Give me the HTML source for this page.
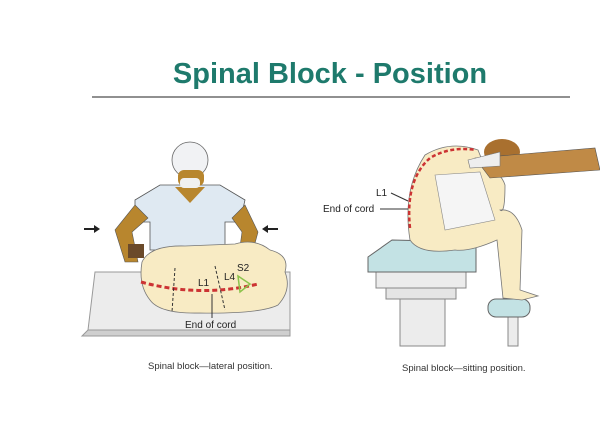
<!DOCTYPE html>
<html><head><style>
body{margin:0;background:#fff;width:600px;height:437px;overflow:hidden}
svg{display:block}
text{font-family:"Liberation Sans",sans-serif}
</style></head><body>
<svg width="600" height="437" viewBox="0 0 600 437">
<text x="330" y="83" text-anchor="middle" font-size="29" font-weight="bold" fill="#1e7a6c">Spinal Block - Position</text>
<line x1="92" y1="97" x2="570" y2="97" stroke="#222" stroke-width="1"/>

<!-- LEFT: table -->
<polygon points="95,272 290,272 290,330 88,330" fill="#ececec" stroke="#999"/>
<polygon points="88,330 290,330 290,336 82,336" fill="#cfcfcf" stroke="#999"/>
<!-- nurse gown -->
<path d="M135,200 L160,185 L220,185 L245,200 L240,222 L225,222 L225,250 L150,250 L150,222 L135,222 Z" fill="#dfe9f2" stroke="#555" stroke-width="0.8"/>
<path d="M175,187 L190,203 L205,187 Z" fill="#b8862e"/>
<!-- head -->
<circle cx="190" cy="160" r="18" fill="#f1f2f4" stroke="#666" stroke-width="0.8"/>
<rect x="178" y="170" width="26" height="16" rx="6" fill="#b8862e"/>
<rect x="180" y="178" width="20" height="10" rx="4" fill="#f0f0f0"/>
<!-- arms -->
<path d="M135,205 L115,230 L125,262 L138,262 L132,232 L148,218 Z" fill="#b8862e" stroke="#555" stroke-width="0.6"/>
<path d="M245,205 L258,232 L250,262 L238,262 L242,232 L232,218 Z" fill="#b8862e" stroke="#555" stroke-width="0.6"/>
<rect x="128" y="244" width="16" height="14" fill="#6b4a2a"/>
<!-- patient body -->
<path d="M142,262 Q150,245 185,246 L235,244 Q255,238 270,250 Q290,255 285,272 Q292,290 278,305 Q260,314 200,313 Q160,314 150,300 Q138,285 142,262 Z" fill="#f8ebc4" stroke="#777" stroke-width="0.8"/>
<!-- arrows -->
<line x1="84" y1="229" x2="96" y2="229" stroke="#222" stroke-width="2"/><polygon points="100,229 94,225 94,233" fill="#222"/>
<line x1="266" y1="229" x2="278" y2="229" stroke="#222" stroke-width="2"/><polygon points="262,229 268,225 268,233" fill="#222"/>
<!-- dashed spine -->
<path d="M141,282 Q200,298 258,284" fill="none" stroke="#cc3333" stroke-width="3" stroke-dasharray="5,3"/>
<line x1="175" y1="268" x2="172" y2="312" stroke="#333" stroke-dasharray="3,2"/>
<line x1="215" y1="266" x2="225" y2="310" stroke="#333" stroke-dasharray="3,2"/>
<polygon points="238,276 250,284 240,292" fill="none" stroke="#8bc34a" stroke-width="1.5"/>
<text x="198" y="286" font-size="10" fill="#222">L1</text>
<text x="224" y="280" font-size="10" fill="#222">L4</text>
<text x="237" y="271" font-size="10" fill="#222">S2</text>
<line x1="212" y1="294" x2="212" y2="318" stroke="#333"/>
<text x="185" y="328" font-size="10" fill="#222">End of cord</text>
<text x="148" y="369" font-size="9.5" fill="#333">Spinal block—lateral position.</text>

<!-- RIGHT: stool -->
<rect x="400" y="298" width="45" height="48" fill="#ececec" stroke="#888"/>
<rect x="386" y="287" width="70" height="12" fill="#e5e5e5" stroke="#888"/>
<rect x="376" y="272" width="90" height="16" fill="#ececec" stroke="#888"/>
<polygon points="368,257 392,240 476,242 476,272 368,272" fill="#c3e2e4" stroke="#666"/>
<rect x="508" y="316" width="10" height="30" fill="#ececec" stroke="#888"/>
<rect x="488" y="299" width="42" height="18" rx="8" fill="#c3e2e4" stroke="#666"/>
<!-- person -->
<path d="M410,240 Q402,190 425,155 Q450,140 478,150 L488,175 Q500,170 505,185 Q505,215 500,210 Q515,208 522,230 L520,290 L538,296 L522,300 L503,298 L497,240 Q470,252 455,250 Q420,255 410,240 Z" fill="#f8ebc4" stroke="#777" stroke-width="0.8"/>
<path d="M435,175 L480,172 L495,220 L445,230 Z" fill="#f5f5f5" stroke="#888" stroke-width="0.6"/>
<ellipse cx="502" cy="152" rx="18" ry="13" fill="#a9702f"/>
<path d="M475,158 L595,148 L600,170 L490,178 Z" fill="#c08a46" stroke="#555" stroke-width="0.6"/>
<path d="M468,160 L500,152 L500,166 L470,168 Z" fill="#eee" stroke="#777" stroke-width="0.6"/>
<path d="M410,228 Q405,180 430,158 Q450,146 476,150" fill="none" stroke="#cc3333" stroke-width="2.5" stroke-dasharray="4,2.5"/>
<text x="376" y="196" font-size="10" fill="#222">L1</text>
<line x1="391" y1="193" x2="408" y2="201" stroke="#333"/>
<text x="323" y="212" font-size="10" fill="#222">End of cord</text>
<line x1="380" y1="209" x2="408" y2="209" stroke="#333"/>
<text x="402" y="371" font-size="9.5" fill="#333">Spinal block—sitting position.</text>
</svg>
</body></html>
